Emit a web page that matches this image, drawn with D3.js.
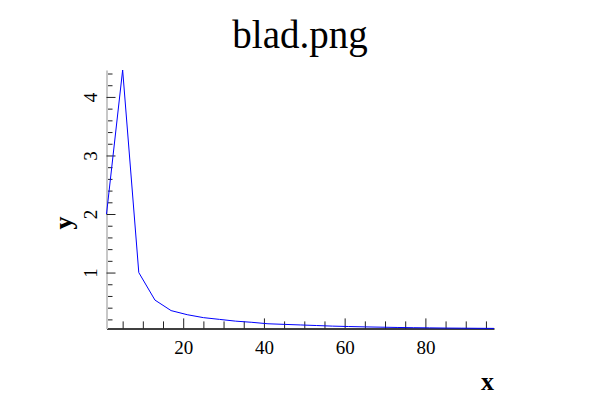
<!DOCTYPE html>
<html>
<head>
<meta charset="utf-8">
<script src="https://cdn.jsdelivr.net/npm/d3@7"></script>
<style>
  body { margin: 0; background: #fff; }
  svg text { font-family: "Liberation Serif", "DejaVu Serif", serif; }
</style>
</head>
<body>
<div id="chart"></div>
<script>
// data
var xValues = [1, 5, 9, 13, 17, 21, 25, 29, 33, 37, 41, 45, 49, 53, 57, 61, 65, 69, 73, 77, 81, 85, 89, 93, 97];
var yValues = [2.0, 4.46, 1.0, 0.53, 0.35, 0.28, 0.23, 0.20, 0.17, 0.15, 0.125, 0.115, 0.105, 0.095, 0.085,
               0.078, 0.072, 0.067, 0.062, 0.058, 0.055, 0.052, 0.05, 0.048, 0.046];
var xMajorTicks = [20, 40, 60, 80];
var yMajorTicks = [1, 2, 3, 4];
var titleText = "blad.png";

var WIDTH = 600,
  HEIGHT = 400;

var LEFT = 106.5,
  RIGHT = 494,
  TOP = 70,
  BOTTOM = 328.4;

var data = xValues.map(function(x, i) { return { x: x, y: yValues[i] }; });

var svg = d3.select('#chart')
  .append("svg")
  .attr("width", WIDTH)
  .attr("height", HEIGHT);

var x = d3.scaleLinear()
  .domain(d3.extent(xValues))
  .range([LEFT, RIGHT]);

var y = d3.scaleLinear()
  .domain(d3.extent(yValues))
  .range([BOTTOM, TOP]);

// minor ticks every 5 on x, every 0.2 on y
var xMinor = d3.range(5, 97, 5).filter(function(v) { return v % 20 != 0; });
var yMinor = d3.range(0.2, 4.45, 0.2).filter(function(v) { return Math.abs(v - Math.round(v)) > 0.01; });

// x axis
var xAxisMinor = svg.append("g")
  .attr("transform", "translate(0," + BOTTOM + ")")
  .call(d3.axisBottom(x).tickValues(xMinor).tickSize(-7).tickSizeOuter(0).tickFormat(""));
xAxisMinor.select(".domain").remove();

var xAxis = svg.append("g")
  .attr("transform", "translate(0," + BOTTOM + ")")
  .call(d3.axisBottom(x).tickValues(xMajorTicks).tickSize(-10).tickSizeOuter(0).tickPadding(12));
xAxis.select(".domain").attr("stroke", "#000").attr("stroke-width", 1.5);
xAxis.selectAll("text")
  .attr("fill", "#000")
  .style("font-size", "19px")
  .attr("dy", "0.7em");

// y axis
var yAxisMinor = svg.append("g")
  .attr("transform", "translate(" + LEFT + ",0)")
  .call(d3.axisLeft(y).tickValues(yMinor).tickSize(-6).tickSizeOuter(0).tickFormat(""));
yAxisMinor.select(".domain").remove();

var yAxis = svg.append("g")
  .attr("transform", "translate(" + LEFT + ",0)")
  .call(d3.axisLeft(y).tickValues(yMajorTicks).tickSize(-9).tickSizeOuter(0).tickFormat(d3.format("d")));
yAxis.select(".domain").attr("stroke", "#c8c8c8").attr("stroke-width", 2);
yAxis.selectAll("text")
  .attr("x", 0)
  .attr("dy", 0)
  .attr("text-anchor", "middle")
  .attr("transform", "translate(-10,0) rotate(-90)")
  .attr("fill", "#000")
  .style("font-size", "19px");

svg.selectAll(".tick line").attr("stroke", "#222");

// the line
var line = d3.line()
  .x(function(d) { return x(d.x); })
  .y(function(d) { return y(d.y); });

svg.append("path")
  .datum(data)
  .attr("d", line)
  .attr("fill", "none")
  .attr("stroke", "#0000ff")
  .attr("stroke-width", 1);

// title and labels
svg.append("text")
  .attr("x", 300)
  .attr("y", 48)
  .attr("text-anchor", "middle")
  .style("font-size", "39px")
  .text(titleText);

svg.append("text")
  .attr("x", RIGHT)
  .attr("y", 390)
  .attr("text-anchor", "end")
  .style("font-size", "26px")
  .style("font-weight", "bold")
  .text("x");

svg.append("text")
  .attr("transform", "translate(72,223) rotate(-90)")
  .attr("text-anchor", "middle")
  .style("font-size", "26px")
  .style("font-weight", "bold")
  .text("y");
</script>
</body>
</html>
